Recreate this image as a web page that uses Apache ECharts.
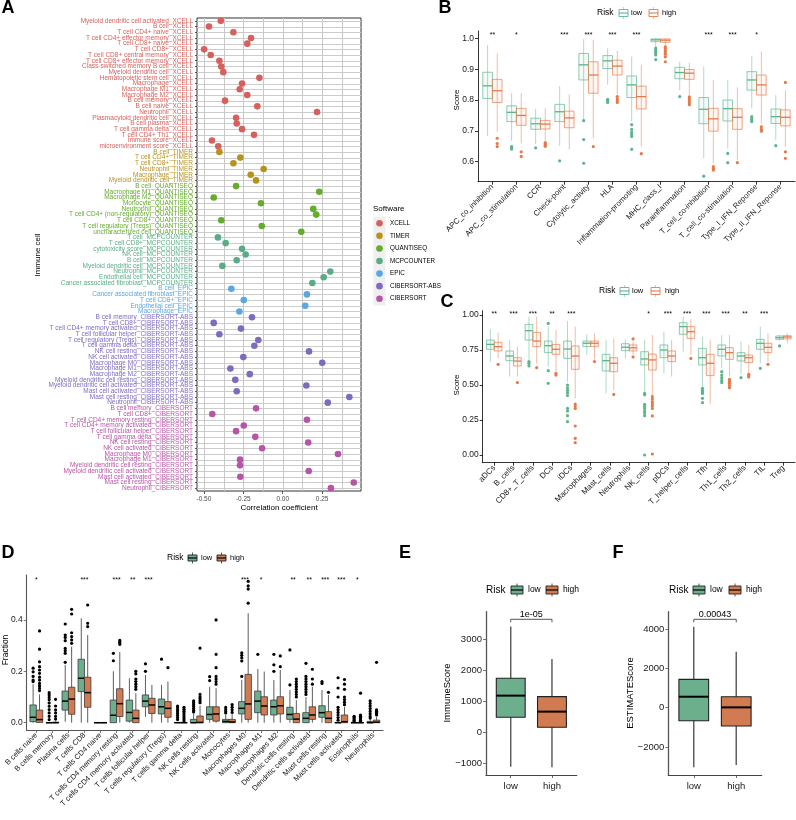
<!DOCTYPE html>
<html><head><meta charset="utf-8">
<script src="https://cdn.jsdelivr.net/npm/echarts@6/dist/echarts.min.js"></script>
<style>html,body{margin:0;padding:0;background:#fff}#c{width:796px;height:820px}</style>
</head><body><div id="c"></div>
<script>
const FONT = 'Liberation Sans, Arial, Helvetica, sans-serif';

// ---------- Panel A data ----------
const softwareNames = ['XCELL','TIMER','QUANTISEQ','MCPCOUNTER','EPIC','CIBERSORT-ABS','CIBERSORT'];
const softwareColors = ['#D6615C','#B8921E','#64AC2B','#58AD86','#5AA7E4','#7E6BC0','#B655A6'];
const xcellCells = ['Myeloid dendritic cell activated','B cell','T cell CD4+ naive','T cell CD4+ effector memory','T cell CD8+ naive','T cell CD8+','T cell CD8+ central memory','T cell CD8+ effector memory','Class-switched memory B cell','Myeloid dendritic cell','Hematopoietic stem cell','Macrophage','Macrophage M1','Macrophage M2','B cell memory','B cell naive','Neutrophil','Plasmacytoid dendritic cell','B cell plasma','T cell gamma delta','T cell CD4+ Th1','immune score','microenvironment score'];
const xcellCorr = [-0.393,-0.468,-0.313,-0.201,-0.225,-0.499,-0.457,-0.402,-0.390,-0.377,-0.148,-0.258,-0.273,-0.225,-0.366,-0.161,0.218,-0.296,-0.292,-0.258,-0.182,-0.449,-0.409];
const timerCells = ['B cell','T cell CD4+','T cell CD8+','Neutrophil','Macrophage','Myeloid dendritic cell'];
const timerCorr = [-0.402,-0.269,-0.313,-0.121,-0.203,-0.169];
const quantiseqCells = ['B cell','Macrophage M1','Macrophage M2','Monocyte','Neutrophil','T cell CD4+ (non-regulatory)','T cell CD8+','T cell regulatory (Tregs)','uncharacterized cell'];
const quantiseqCorr = [-0.296,0.232,-0.438,-0.138,0.194,0.213,-0.390,-0.133,0.118];
const mcpCells = ['T cell','T cell CD8+','cytotoxicity score','NK cell','B cell','Myeloid dendritic cell','Neutrophil','Endothelial cell','Cancer associated fibroblast'];
const mcpCorr = [-0.411,-0.362,-0.258,-0.235,-0.292,-0.383,0.302,0.260,0.188];
const epicCells = ['B cell','Cancer associated fibroblast','T cell CD8+','Endothelial cell','Macrophage'];
const epicCorr = [-0.326,0.154,-0.247,0.143,-0.275];
const cibAbsCells = ['B cell memory','T cell CD8+','T cell CD4+ memory activated','T cell follicular helper','T cell regulatory (Tregs)','T cell gamma delta','NK cell resting','NK cell activated','Macrophage M0','Macrophage M1','Macrophage M2','Myeloid dendritic cell resting','Myeloid dendritic cell activated','Mast cell activated','Mast cell resting','Neutrophil'];
const cibAbsCorr = [-0.195,-0.438,-0.265,-0.402,-0.155,-0.180,0.167,-0.250,0.251,-0.332,-0.209,-0.301,0.150,-0.292,0.423,0.286];
const cibCells = ['B cell memory','T cell CD8+','T cell CD4+ memory resting','T cell CD4+ memory activated','T cell follicular helper','T cell gamma delta','NK cell resting','NK cell activated','Macrophage M0','Macrophage M1','Myeloid dendritic cell resting','Myeloid dendritic cell activated','Mast cell activated','Mast cell resting','Neutrophil'];
const cibCorr = [-0.169,-0.447,0.154,-0.247,-0.296,-0.174,0.162,-0.131,0.351,-0.271,-0.271,0.165,-0.269,0.451,0.306];
const aTicks = [-0.5,-0.25,0,0.25];
const aGridVals = [-0.5,-0.375,-0.25,-0.125,0,0.125,0.25,0.375];
const aXMin = -0.544, aXMax = 0.497;

// ---------- Panel B data ----------
const bCats = ['APC_co_inhibition','APC_co_stimulation','CCR','Check-point','Cytolytic_activity','HLA','Inflammation-promoting','MHC_class_I','Parainflammation','T_cell_co-inhibition','T_cell_co-stimulation','Type_I_IFN_Reponse','Type_II_IFN_Reponse'];
const bLowBox = [[0.683,0.805,0.846,0.890,0.978],[0.668,0.730,0.760,0.781,0.822],[0.657,0.705,0.723,0.741,0.771],[0.652,0.730,0.762,0.786,0.845],[0.735,0.865,0.914,0.951,0.997],[0.849,0.902,0.927,0.944,0.968],[0.730,0.808,0.849,0.878,0.941],[0.973,0.989,0.995,0.998,1.000],[0.832,0.869,0.889,0.906,0.924],[0.611,0.723,0.770,0.808,0.908],[0.643,0.732,0.772,0.800,0.865],[0.773,0.832,0.865,0.892,0.943],[0.670,0.724,0.746,0.771,0.816]];
const bHighBox = [[0.697,0.792,0.830,0.867,0.951],[0.659,0.718,0.750,0.773,0.822],[0.668,0.706,0.722,0.734,0.773],[0.640,0.710,0.742,0.764,0.818],[0.676,0.822,0.881,0.924,0.995],[0.818,0.881,0.910,0.929,0.960],[0.649,0.771,0.811,0.845,0.914],[0.975,0.987,0.994,0.998,1.000],[0.816,0.867,0.887,0.899,0.921],[0.595,0.699,0.739,0.773,0.865],[0.605,0.705,0.744,0.772,0.841],[0.724,0.816,0.849,0.881,0.957],[0.649,0.716,0.744,0.768,0.832]];
const bLowOut = [[],[0.649,0.645,0.641],[0.645],[0.603],[0.733,0.672,0.595],[0.802,0.797,0.792],[0.720,0.705,0.695,0.688,0.682,0.640],[0.968,0.962,0.957,0.952,0.946,0.931],[0.811],[0.553],[0.627,0.597],[0.746,0.740,0.735,0.730],[0.652]];
const bHighOut = [[0.676,0.659,0.649],[0.632,0.617],[0.662,0.658,0.654,0.650],[],[0.649],[0.811,0.803,0.797,0.792],[0.626],[0.972,0.966,0.960,0.954,0.948,0.940,0.924],[0.810,0.804,0.797,0.790,0.785],[0.584,0.578,0.573],[0.597],[0.713,0.705,0.699],[0.857,0.632,0.611]];
const bSig = ['**','*','','***','***','***','***','','','***','***','*',''];
const bTicks = [0.6,0.7,0.8,0.9,1.0];

// ---------- Panel C data ----------
const cCats = ['aDCs','B_cells','CD8+_T_cells','DCs','iDCs','Macrophages','Mast_cells','Neutrophils','NK_cells','pDCs','T_helper_cells','Tfh','Th1_cells','Th2_cells','TIL','Treg'];
const cLowBox = [[0.667,0.755,0.790,0.821,0.898],[0.560,0.674,0.707,0.743,0.821],[0.679,0.821,0.888,0.933,0.988],[0.631,0.731,0.781,0.814,0.917],[0.524,0.690,0.757,0.814,0.957],[0.714,0.774,0.798,0.814,0.862],[0.440,0.600,0.674,0.719,0.821],[0.690,0.745,0.770,0.795,0.826],[0.452,0.643,0.686,0.738,0.821],[0.583,0.695,0.750,0.786,0.881],[0.738,0.862,0.917,0.945,0.988],[0.488,0.643,0.695,0.762,0.845],[0.619,0.707,0.755,0.786,0.857],[0.579,0.671,0.707,0.731,0.810],[0.655,0.755,0.798,0.826,0.917],[0.817,0.826,0.838,0.850,0.857]];
const cHighBox = [[0.690,0.743,0.774,0.805,0.874],[0.560,0.636,0.671,0.695,0.774],[0.655,0.774,0.814,0.876,0.988],[0.595,0.719,0.755,0.790,0.893],[0.405,0.612,0.707,0.779,0.917],[0.683,0.774,0.798,0.814,0.869],[0.464,0.595,0.655,0.695,0.833],[0.710,0.743,0.766,0.786,0.810],[0.429,0.607,0.679,0.721,0.857],[0.560,0.667,0.707,0.743,0.821],[0.714,0.833,0.881,0.917,0.969],[0.364,0.567,0.655,0.719,0.821],[0.560,0.683,0.731,0.767,0.857],[0.588,0.660,0.695,0.714,0.786],[0.667,0.731,0.769,0.798,0.869],[0.798,0.829,0.843,0.852,0.869]];
const cLowOut = [[],[],[0.667,0.655,0.636],[0.940,0.602,0.512],[0.500,0.480,0.462,0.445,0.425,0.333,0.314,0.281,0.238],[],[],[],[0.440,0.430,0.362,0.348,0.333,0.314,0.300,0.281,0.000],[],[],[0.476,0.462,0.450,0.440,0.405,0.374],[0.595,0.571,0.552,0.533,0.517],[0.552],[0.619],[0.779]];
const cHighOut = [[0.648],[0.517],[0.624],[0.583,0.571],[0.364,0.350,0.333,0.207,0.119,0.088],[0.667],[0.433],[0.829,0.700],[0.417,0.400,0.381,0.364,0.350,0.333,0.279,0.007],[],[0.690],[],[0.540,0.530,0.520,0.510,0.495,0.480],[0.576,0.567,0.557],[0.648],[]];
const cSig = ['**','***','***','**','***','','','','*','***','***','***','***','**','***',''];
const cTicks = [0,0.25,0.5,0.75,1.0];

// ---------- Panel D data ----------
const dCats = ['B cells naive','B cells memory','Plasma cells','T cells CD8','T cells CD4 naive','T cells CD4 memory resting','T cells CD4 memory activated','T cells follicular helper','T cells regulatory (Tregs)','T cells gamma delta','NK cells resting','NK cells activated','Monocytes','Macrophages M0','Macrophages M1','Macrophages M2','Dendritic cells resting','Dendritic cells activated','Mast cells resting','Mast cells activated','Eosinophils','Neutrophils'];
const dLowBox = [[0,0.004,0.021,0.069,0.150],[0,0,0,0,0],[0.004,0.049,0.084,0.123,0.225],[0,0.121,0.173,0.247,0.406],[0,0,0,0,0],[0,0,0.029,0.088,0.200],[0,0.006,0.040,0.088,0.173],[0.023,0.062,0.084,0.108,0.186],[0,0.034,0.062,0.092,0.147],[0,0,0,0.001,0.002],[0,0,0,0.013,0.036],[0,0.013,0.032,0.062,0.140],[0,0,0.005,0.013,0.030],[0,0.034,0.056,0.082,0.166],[0,0.039,0.084,0.123,0.209],[0,0.030,0.062,0.088,0.166],[0,0.013,0.032,0.060,0.127],[0,0,0.017,0.039,0.100],[0,0.021,0.039,0.066,0.127],[0,0,0,0.001,0.002],[0,0,0,0,0],[0,0,0,0.005,0.013]];
const dHighBox = [[0,0.001,0.012,0.049,0.110],[0,0,0,0.002,0.005],[0,0.033,0.092,0.138,0.296],[0,0.060,0.117,0.177,0.341],[0,0,0,0,0],[0,0.024,0.074,0.132,0.275],[0,0,0.017,0.049,0.114],[0,0.036,0.069,0.095,0.147],[0,0.021,0.056,0.082,0.160],[0,0,0,0.001,0.002],[0,0,0.001,0.026,0.066],[0,0.006,0.034,0.062,0.134],[0,0,0.003,0.013,0.033],[0,0.013,0.073,0.188,0.426],[0,0.030,0.065,0.101,0.199],[0,0.034,0.066,0.101,0.205],[0,0,0.014,0.036,0.088],[0,0.013,0.030,0.062,0.140],[0,0,0.017,0.043,0.108],[0,0,0.004,0.030,0.062],[0,0,0,0,0],[0,0,0.002,0.010,0.023]];
const dLowOut = [[0.212,0.198,0.180,0.166,0.160],[0.117,0.108,0.099,0.090,0.077,0.064,0.051,0.038,0.025,0.012],[0.384,0.341,0.332,0.319,0.289,0.280,0.270,0.235],[],[],[0.270,0.241],[],[0.229,0.200],[0.247],[0.065,0.058,0.050,0.043,0.035,0.028,0.020,0.012],[0.085,0.078,0.070,0.063,0.055,0.048,0.042],[0.179,0.164],[0.060,0.052,0.045,0.038],[0.272,0.262,0.252,0.240,0.180],[0.266],[0.266,0.225,0.200],[0.283,0.147],[0.231,0.180,0.170,0.160,0.150,0.140,0.130,0.120,0.110],[0.160,0.153],[0.175,0.135,0.100,0.060,0.050,0.040,0.030,0.020,0.010],[0.025,0.020,0.015,0.010,0.005],[0.085,0.075,0.065,0.055,0.045,0.035,0.025,0.018]];
const dHighOut = [[0.357,0.286,0.237,0.218,0.205,0.192,0.177,0.166,0.153,0.143,0.134,0.125],[0.091,0.065,0.050,0.038,0.025,0.014],[0.441,0.423,0.350,0.335,0.322,0.309],[0.458,0.387,0.374],[],[0.320,0.315,0.310,0.305],[0.200,0.190,0.170,0.160,0.150,0.140,0.130],[],[0.214],[0.060,0.052,0.045,0.038,0.030,0.022,0.015,0.008],[0.290,0.110,0.100,0.093,0.085,0.078],[0.400,0.266,0.214,0.180,0.170,0.160,0.150],[0.070,0.060,0.050,0.040],[0.550,0.532,0.520,0.465],[],[0.260,0.218],[0.170,0.160,0.150,0.140,0.130,0.120,0.110,0.100],[0.208,0.170,0.150],[0.118],[0.168,0.150,0.130,0.100,0.090,0.080,0.070],[0.115,0.030,0.025,0.020,0.015,0.010,0.005],[0.235,0.050,0.045,0.040,0.035,0.030]];
const dSig = ['*','','','***','','***','**','***','','','','','','***','*','','**','**','***','***','*',''];
const dTicks = [0,0.2,0.4];

// ---------- Panels E, F data ----------
const riskCats = ['low','high'];
const eLow = [-1108,484,1183,1742,3409];
const eHigh = [-1129,161,667,1151,2366];
const ePval = '1e-05';
const eTicks = [-1000,0,1000,2000,3000];
const fLow = [-3034,-661,559,1441,4119];
const fHigh = [-2915,-932,17,559,2847];
const fPval = '0.00043';
const fTicks = [-2000,0,2000,4000];

// ---------- colours ----------
const lowLine = '#5DB38E', highLine = '#E5794A';
const lowFill = '#6CAF8D', highFill = '#D27A51';

// ---------- helpers ----------
function boxSeries(g, boxes, catOf, offset, wf, st) {
  return {
    type: 'custom', xAxisIndex: g, yAxisIndex: g, z: 3, silent: true,
    encode: {x: 0, y: [1,2,3,4,5]},
    data: boxes.map((b, i) => [catOf(i)].concat(b)),
    renderItem(params, api) {
      const i = api.value(0);
      const band = api.size([1, 0])[0];
      const cx = api.coord([i, api.value(3)])[0] + offset * band;
      const hw = wf * band / 2;
      const Y = k => api.coord([i, api.value(k)])[1];
      const lo = Y(1), q1 = Y(2), md = Y(3), q3 = Y(4), hi = Y(5);
      return {type: 'group', children: [
        {type: 'line', shape: {x1: cx, y1: hi, x2: cx, y2: lo}, style: {stroke: st.whisker, lineWidth: st.ww, opacity: st.wo || 1}},
        {type: 'rect', shape: {x: cx - hw, y: q3, width: 2 * hw, height: Math.max(q1 - q3, 0.01)}, style: {fill: st.fill, stroke: st.stroke, lineWidth: st.bw}},
        {type: 'line', shape: {x1: cx - hw, y1: md, x2: cx + hw, y2: md}, style: {stroke: st.median, lineWidth: st.mw}}
      ]};
    }
  };
}
function flatOut(lists) {
  const pts = [];
  lists.forEach((arr, i) => arr.forEach(v => pts.push([i, v])));
  return pts;
}
function outSeries(g, lists, offset, color, r) {
  return {
    type: 'custom', xAxisIndex: g, yAxisIndex: g, z: 4, silent: true,
    encode: {x: 0, y: 1}, data: flatOut(lists),
    renderItem(params, api) {
      const band = api.size([1, 0])[0];
      const p = api.coord([api.value(0), api.value(1)]);
      return {type: 'circle', shape: {cx: p[0] + offset * band, cy: p[1], r: r}, style: {fill: color}};
    }
  };
}
function sigSeries(g, sig, yv, fs) {
  return {
    type: 'custom', xAxisIndex: g, yAxisIndex: g, z: 4, silent: true,
    encode: {x: 0, y: 1}, data: sig.map((s, i) => [i, yv]),
    renderItem(params, api) {
      const p = api.coord([api.value(0), api.value(1)]);
      return {type: 'text', x: p[0], y: p[1], style: {text: sig[params.dataIndex], align: 'center', verticalAlign: 'middle', fontSize: fs, fontFamily: FONT, fill: '#000'}};
    }
  };
}
function bracketSeries(g, yLine, yTip, label) {
  return {
    type: 'custom', xAxisIndex: g, yAxisIndex: g, z: 4, silent: true,
    encode: {x: [0, 1], y: [2, 3]}, data: [[0, 1, yLine, yTip]],
    renderItem(params, api) {
      const a = api.coord([api.value(0), api.value(2)]);
      const b = api.coord([api.value(1), api.value(2)]);
      const t = api.coord([0, api.value(3)])[1];
      return {type: 'group', children: [
        {type: 'polyline', shape: {points: [[a[0], t], [a[0], a[1]], [b[0], b[1]], [b[0], t]]}, style: {stroke: '#555', lineWidth: 1, fill: null}},
        {type: 'text', x: (a[0] + b[0]) / 2, y: a[1] - 0.5, style: {text: label, align: 'center', verticalAlign: 'bottom', fontSize: 9, fontFamily: FONT, fill: '#000'}}
      ]};
    }
  };
}
function catX(g, cats, rot, fs, lineColor, lw) {
  const idx = cats.map((_, i) => i);
  return {
    type: 'value', gridIndex: g, min: -0.6, max: cats.length - 0.4,
    axisLine: {show: true, onZero: false, lineStyle: {color: lineColor, width: lw}},
    axisTick: {show: true, customValues: idx, length: 3, lineStyle: {color: lineColor, width: 0.8}},
    axisLabel: {customValues: idx, formatter: v => cats[Math.round(v)], rotate: rot, fontSize: fs, fontFamily: FONT, color: '#1a1a1a', margin: 4},
    splitLine: {show: false}
  };
}
function valY(g, min, max, ticks, fmt, fs, lineColor, lw) {
  return {
    type: 'value', gridIndex: g, min: min, max: max,
    axisLine: {show: true, onZero: false, lineStyle: {color: lineColor, width: lw}},
    axisTick: {show: true, customValues: ticks, length: 3, lineStyle: {color: lineColor, width: 0.8}},
    axisLabel: {customValues: ticks, formatter: fmt, fontSize: fs, fontFamily: FONT, color: '#1a1a1a', margin: 4},
    splitLine: {show: false}
  };
}
const minusFmt = v => (v < 0 ? '\u2212' + Math.abs(v) : String(v));

// ---------- panel A build ----------
const aGroups = [
  [xcellCells, xcellCorr], [timerCells, timerCorr], [quantiseqCells, quantiseqCorr],
  [mcpCells, mcpCorr], [epicCells, epicCorr], [cibAbsCells, cibAbsCorr], [cibCells, cibCorr]
];
const aLabels = [], aColorOf = {};
aGroups.forEach((g, gi) => g[0].forEach(c => {
  const l = c + '_' + softwareNames[gi];
  aLabels.push(l); aColorOf[l] = softwareColors[gi];
}));
const nRows = aLabels.length;

const series = [];
// horizontal grid lines at each row, spanning the x-axis extent
series.push({
  type: 'custom', xAxisIndex: 0, yAxisIndex: 0, z: 1, silent: true, clip: false,
  encode: {x: 0, y: 1},
  data: aLabels.map((l, i) => [0, i]),
  renderItem(params, api) {
    const r = api.value(1);
    const p1 = api.coord([aXMin, r]);
    const p2 = api.coord([aXMax, r]);
    const y = Math.round(p1[1]) + 0.5;
    return {type: 'line', shape: {x1: p1[0], y1: y, x2: p2[0], y2: y}, style: {stroke: '#CCCCCC', lineWidth: 1}};
  }
});
// vertical grid lines
series.push({
  type: 'custom', xAxisIndex: 0, yAxisIndex: 0, z: 1, silent: true, clip: false,
  encode: {x: 0, y: 1},
  data: aGridVals.map(v => [v, 0]),
  renderItem(params, api) {
    const v = api.value(0);
    const half = api.size([0, 1])[1] / 2;
    const top = api.coord([v, 0]);
    const bot = api.coord([v, nRows - 1]);
    const x = Math.round(top[0]) + 0.5;
    return {type: 'line', shape: {x1: x, y1: Math.min(top[1], bot[1]) - half, x2: x, y2: Math.max(top[1], bot[1]) + half}, style: {stroke: '#C8C8C8', lineWidth: 1}};
  }
});
aGroups.forEach((g, gi) => {
  series.push({
    type: 'scatter', name: softwareNames[gi], xAxisIndex: 0, yAxisIndex: 0, z: 3,
    symbolSize: 6.6, itemStyle: {color: softwareColors[gi], opacity: 1},
    data: g[1].map((v, k) => [v, g[0][k] + '_' + softwareNames[gi]])
  });
});

const bcLowStyle = {whisker: lowLine, ww: 0.9, wo: 0.55, fill: 'rgba(93,179,142,0.07)', stroke: 'rgba(93,179,142,0.75)', bw: 0.9, median: lowLine, mw: 1.3};
const bcHighStyle = {whisker: highLine, ww: 0.9, wo: 0.55, fill: 'rgba(229,121,74,0.07)', stroke: 'rgba(229,121,74,0.75)', bw: 0.9, median: highLine, mw: 1.3};
series.push(boxSeries(1, bLowBox, i => i, -0.2, 0.4, bcLowStyle));
series.push(boxSeries(1, bHighBox, i => i, 0.2, 0.4, bcHighStyle));
series.push(outSeries(1, bLowOut, -0.2, lowLine, 1.6));
series.push(outSeries(1, bHighOut, 0.2, highLine, 1.6));
series.push(sigSeries(1, bSig, 1.009, 7));
series.push(boxSeries(2, cLowBox, i => i, -0.2, 0.4, bcLowStyle));
series.push(boxSeries(2, cHighBox, i => i, 0.2, 0.4, bcHighStyle));
series.push(outSeries(2, cLowOut, -0.2, lowLine, 1.6));
series.push(outSeries(2, cHighOut, 0.2, highLine, 1.6));
series.push(sigSeries(2, cSig, 1.004, 7));
const dLowStyle = {whisker: '#333', ww: 0.8, fill: lowFill, stroke: '#3a3a3a', bw: 0.8, median: '#000', mw: 1.5};
const dHighStyle = {whisker: '#333', ww: 0.8, fill: highFill, stroke: '#3a3a3a', bw: 0.8, median: '#000', mw: 1.5};
series.push(boxSeries(3, dLowBox, i => i, -0.2, 0.4, dLowStyle));
series.push(boxSeries(3, dHighBox, i => i, 0.2, 0.4, dHighStyle));
series.push(outSeries(3, dLowOut, -0.2, '#000', 1.6));
series.push(outSeries(3, dHighOut, 0.2, '#000', 1.6));
series.push(sigSeries(3, dSig, 0.555, 7));
const efLowStyle = {whisker: '#555', ww: 1.4, fill: lowFill, stroke: '#222', bw: 1.1, median: '#000', mw: 2};
const efHighStyle = {whisker: '#555', ww: 1.4, fill: highFill, stroke: '#222', bw: 1.1, median: '#000', mw: 2};
series.push(boxSeries(4, [eLow], () => 0, 0, 0.7, efLowStyle));
series.push(boxSeries(4, [eHigh], () => 1, 0, 0.7, efHighStyle));
series.push(bracketSeries(4, 3645, 3548, ePval));
series.push(boxSeries(5, [fLow], () => 0, 0, 0.7, efLowStyle));
series.push(boxSeries(5, [fHigh], () => 1, 0, 0.7, efHighStyle));
series.push(bracketSeries(5, 4495, 4343, fPval));

const xAxes = [
  {type: 'value', gridIndex: 0, min: aXMin, max: aXMax,
   axisLine: {show: false, onZero: false},
   axisTick: {show: true, customValues: aTicks, length: 3, lineStyle: {color: '#333', width: 0.8}},
   axisLabel: {customValues: aTicks, formatter: v => v.toFixed(2), fontSize: 6.5, fontFamily: FONT, color: '#4D4D4D', margin: 5},
   splitLine: {show: false}},
  catX(1, bCats, 45, 7.8, '#000', 0.8),
  catX(2, cCats, 45, 8, '#000', 0.8),
  catX(3, dCats, 45, 7.5, '#555', 1.1),
  catX(4, riskCats, 0, 9.5, '#444', 1.2),
  catX(5, riskCats, 0, 9.5, '#444', 1.2)
];
xAxes[4].axisLabel.margin = 6; xAxes[5].axisLabel.margin = 6;
const yAxes = [
  {type: 'category', gridIndex: 0, data: aLabels, inverse: true,
   axisLine: {show: false, onZero: false},
   axisTick: {show: true, alignWithLabel: true, interval: 0, length: 2, lineStyle: {color: '#333', width: 0.8}},
   axisLabel: {interval: 0, fontSize: 6.5, fontFamily: FONT, margin: 4, color: v => aColorOf[v]},
   splitLine: {show: false}},
  valY(1, 0.5352, 1.0237, bTicks, v => v.toFixed(1), 8.5, '#000', 0.8),
  valY(2, -0.055, 1.0307, cTicks, v => v.toFixed(2), 8.5, '#000', 0.8),
  valY(3, -0.0284, 0.5747, dTicks, v => v.toFixed(1), 8.5, '#555', 1.1),
  valY(4, -1377, 3890, eTicks, minusFmt, 9.5, '#555', 1.3),
  valY(5, -3422, 4882, fTicks, minusFmt, 9.5, '#555', 1.3)
];

function T(x, y, s, fs, o) {
  o = o || {};
  return {type: 'text', x: x, y: y, rotation: o.rot || 0, z: 10, silent: true,
    style: {text: s, fontSize: fs, fontFamily: FONT, fontWeight: o.bold ? 'bold' : 'normal', fill: o.color || '#000',
      align: o.align || 'left', verticalAlign: 'middle'}};
}
function keyOutline(x, yc, col) {
  const w = 9, h = 7, cx = x + w / 2;
  return [
    {type: 'line', z: 10, shape: {x1: cx, y1: yc - 6, x2: cx, y2: yc + 6}, style: {stroke: col, lineWidth: 0.8, opacity: 0.6}},
    {type: 'rect', z: 10, shape: {x: x, y: yc - h / 2, width: w, height: h}, style: {fill: '#fff', stroke: col, lineWidth: 0.9}},
    {type: 'line', z: 10, shape: {x1: x, y1: yc, x2: x + w, y2: yc}, style: {stroke: col, lineWidth: 1.1}}
  ];
}
function keyFilled(x, yc, fill, w, h) {
  const cx = x + w / 2;
  return [
    {type: 'line', z: 10, shape: {x1: cx, y1: yc - h / 2 - 2.5, x2: cx, y2: yc + h / 2 + 2.5}, style: {stroke: '#444', lineWidth: 0.9}},
    {type: 'rect', z: 10, shape: {x: x, y: yc - h / 2, width: w, height: h}, style: {fill: fill, stroke: '#222', lineWidth: 0.9}},
    {type: 'line', z: 10, shape: {x1: x, y1: yc, x2: x + w, y2: yc}, style: {stroke: '#000', lineWidth: 1.2}}
  ];
}
const graphics = [];
[['A', 8, 8], ['B', 445, 8], ['C', 447, 302], ['D', 8, 553], ['E', 405, 553], ['F', 618, 553]].forEach(l =>
  graphics.push(T(l[1], l[2], l[0], 18, {bold: true, align: 'center'})));
graphics.push(T(38, 255, 'Immune cell', 8, {rot: Math.PI / 2, align: 'center'}));
graphics.push(T(279, 508, 'Correlation coefficient', 8, {align: 'center'}));
graphics.push(T(457, 100, 'Score', 8, {rot: Math.PI / 2, align: 'center'}));
graphics.push(T(457, 385, 'Score', 8, {rot: Math.PI / 2, align: 'center'}));
graphics.push(T(6, 650, 'Fraction', 8.5, {rot: Math.PI / 2, align: 'center'}));
graphics.push(T(447, 693, 'ImmuneScore', 9.5, {rot: Math.PI / 2, align: 'center'}));
graphics.push(T(630, 693, 'ESTIMATEScore', 9.5, {rot: Math.PI / 2, align: 'center'}));
graphics.push(T(373, 209, 'Software', 8));
graphics.push({type: 'rect', z: 9, shape: {x: 373.5, y: 216.5, width: 12, height: 89}, style: {fill: '#EFEFEF'}});
softwareNames.forEach((s, i) => {
  const y = 223.3 + i * 12.57;
  graphics.push({type: 'circle', z: 10, shape: {cx: 379.5, cy: y, r: 3.3}, style: {fill: softwareColors[i]}});
  graphics.push(T(390, y, s, 6.3));
});
[[13, 597, 619, 631, 649, 662], [291, 599, 620, 632, 651, 665]].forEach(L => {
  graphics.push(T(L[1], L[0], 'Risk', 8.5));
  keyOutline(L[2], L[0], lowLine).forEach(e => graphics.push(e));
  graphics.push(T(L[3], L[0], 'low', 7.5));
  keyOutline(L[4], L[0], highLine).forEach(e => graphics.push(e));
  graphics.push(T(L[5], L[0], 'high', 7.5));
});
graphics.push(T(167, 558, 'Risk', 8.5));
keyFilled(188, 558, lowFill, 9, 6).forEach(e => graphics.push(e));
graphics.push(T(201, 558, 'low', 7.5));
keyFilled(217, 558, highFill, 9, 6).forEach(e => graphics.push(e));
graphics.push(T(230, 558, 'high', 7.5));
[[486, 511, 528, 546, 563], [669, 693, 710, 729, 746]].forEach(L => {
  graphics.push(T(L[0], 590, 'Risk', 10));
  keyFilled(L[1], 590, lowFill, 12, 8).forEach(e => graphics.push(e));
  graphics.push(T(L[2], 590, 'low', 8.5));
  keyFilled(L[3], 590, highFill, 12, 8).forEach(e => graphics.push(e));
  graphics.push(T(L[4], 590, 'high', 8.5));
});

const option = {
  animation: false,
  backgroundColor: '#fff',
  textStyle: {fontFamily: FONT},
  grid: [
    {left: 197, top: 18, width: 164, height: 473, show: true, borderColor: '#333', borderWidth: 1, backgroundColor: 'transparent', containLabel: false},
    {left: 478, top: 31, width: 317, height: 150.7},
    {left: 482.7, top: 310.7, width: 312.3, height: 152},
    {left: 26.7, top: 575, width: 356.3, height: 155},
    {left: 486, top: 611.7, width: 90.7, height: 163.3},
    {left: 668.3, top: 611.7, width: 93.4, height: 163.3}
  ],
  xAxis: xAxes,
  yAxis: yAxes,
  series: series,
  graphic: graphics
};
const chart = echarts.init(document.getElementById('c'), null, {renderer: 'canvas', width: 796, height: 820});
chart.setOption(option);
</script>
</body></html>
